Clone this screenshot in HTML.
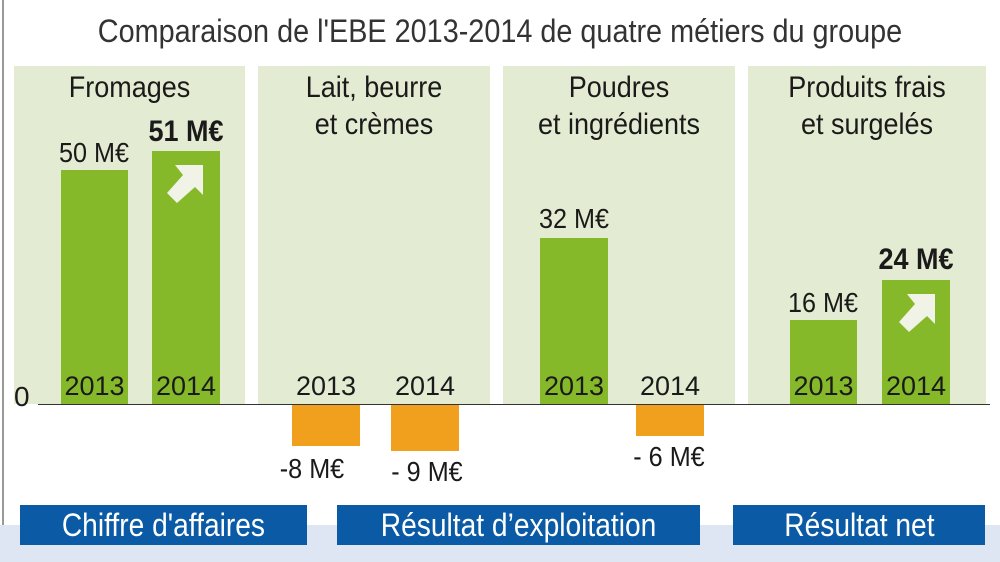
<!DOCTYPE html>
<html><head><style>
body{margin:0;width:1000px;height:562px;background:#fff;position:relative;overflow:hidden;font-family:"Liberation Sans",sans-serif;}
div{position:absolute;}
.p{background:#e3ecd2;top:66px;height:338px;}
.g{background:#86b92a;}
.o{background:#f0a01c;}
.t{color:#1a1a1a;font-size:28px;text-align:center;white-space:nowrap;transform:scaleX(0.9);}
.h{color:#1a1a1a;font-size:30px;text-align:center;line-height:37px;transform:scaleX(0.9);}
.y{font-size:27px;color:#1a1a1a;text-align:center;}
.b{background:#0b5aa5;color:#fff;font-size:32px;text-align:center;line-height:40px;top:505px;height:40px;}
</style></head><body>
<div style="left:2px;top:0;width:2px;height:562px;background:#999"></div>
<div class="t" style="left:0;width:1000px;top:13px;font-size:32px;color:#333">Comparaison de l'EBE 2013-2014 de quatre métiers du groupe</div>
<div class="p" style="left:14px;width:231px"></div>
<div class="p" style="left:258px;width:232px"></div>
<div class="p" style="left:503px;width:232px"></div>
<div class="p" style="left:748px;width:238px"></div>
<div class="h" style="left:14px;width:231px;top:69px">Fromages</div>
<div class="h" style="left:258px;width:232px;top:69px">Lait, beurre<br>et crèmes</div>
<div class="h" style="left:503px;width:232px;top:69px">Poudres<br>et ingrédients</div>
<div class="h" style="left:748px;width:238px;top:69px">Produits frais<br>et surgelés</div>
<div style="left:38px;top:404px;width:952px;height:1px;background:#333"></div>
<div class="y" style="left:14px;top:381px;font-size:28px">0</div>
<div class="g" style="left:61px;top:170px;width:67px;height:234px"></div>
<div class="g" style="left:152px;top:151px;width:68px;height:253px"></div>
<div class="g" style="left:540px;top:238px;width:68px;height:166px"></div>
<div class="g" style="left:790px;top:320px;width:67px;height:84px"></div>
<div class="g" style="left:882px;top:280px;width:68px;height:124px"></div>
<div class="o" style="left:292px;top:405px;width:68px;height:41px"></div>
<div class="o" style="left:391px;top:405px;width:68px;height:46px"></div>
<div class="o" style="left:636px;top:405px;width:68px;height:31px"></div>
<svg style="position:absolute;left:163px;top:163px" width="42" height="42"><polygon points="40,2 40,32 32,24 14,40 4,30 20,12 12,2" fill="#f0f3e6"/></svg>
<svg style="position:absolute;left:895px;top:292px" width="42" height="42"><polygon points="40,2 40,32 32,24 14,40 4,30 20,12 12,2" fill="#f0f3e6"/></svg>
<div class="y" style="left:61px;width:67px;top:371px">2013</div>
<div class="y" style="left:152px;width:68px;top:371px">2014</div>
<div class="y" style="left:292px;width:68px;top:371px">2013</div>
<div class="y" style="left:391px;width:68px;top:371px">2014</div>
<div class="y" style="left:540px;width:68px;top:371px">2013</div>
<div class="y" style="left:636px;width:68px;top:371px">2014</div>
<div class="y" style="left:790px;width:67px;top:371px">2013</div>
<div class="y" style="left:882px;width:68px;top:371px">2014</div>
<div class="t" style="left:44px;width:100px;top:137px">50 M€</div>
<div class="t" style="left:136px;width:100px;top:115px;font-weight:bold;font-size:30px">51 M€</div>
<div class="t" style="left:524px;width:100px;top:203px">32 M€</div>
<div class="t" style="left:773px;width:100px;top:287px">16 M€</div>
<div class="t" style="left:866px;width:100px;top:243px;font-weight:bold;font-size:30px">24 M€</div>
<div class="t" style="left:262px;width:100px;top:453px">-8 M€</div>
<div class="t" style="left:372px;width:110px;top:456px">- 9 M€</div>
<div class="t" style="left:614px;width:110px;top:441px">- 6 M€</div>
<div style="left:0;top:525px;width:1000px;height:37px;background:#dde6f2"></div>
<div class="b" style="left:20px;width:287px"><span style="display:inline-block;transform:scaleX(0.88)">Chiffre d'affaires</span></div>
<div class="b" style="left:337px;width:363px"><span style="display:inline-block;transform:scaleX(0.88)">Résultat d’exploitation</span></div>
<div class="b" style="left:733px;width:252px"><span style="display:inline-block;transform:scaleX(0.88)">Résultat net</span></div>
</body></html>
